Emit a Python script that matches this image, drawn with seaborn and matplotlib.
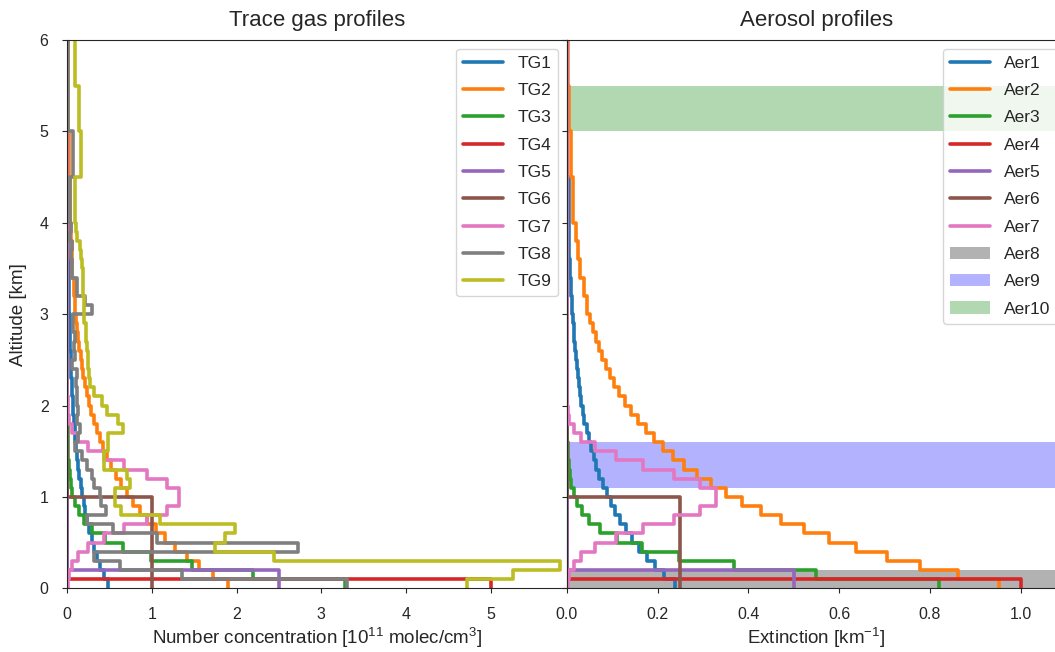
import numpy as np
import pandas as pd
import matplotlib
matplotlib.use('Agg')
import matplotlib.pyplot as plt
import seaborn as sns

# =====================
# DATA (layer edges in km, layer values)
# =====================
alt_edges = [0.0, 0.1, 0.2, 0.3, 0.4, 0.5, 0.6, 0.7, 0.8, 0.9,
             1.0, 1.1, 1.2, 1.3, 1.4, 1.5, 1.6, 1.7, 1.8, 1.9,
             2.0, 2.1, 2.2, 2.3, 2.4, 2.5, 2.6, 2.7, 2.8, 2.9,
             3.0, 3.1, 3.2, 3.3, 3.4, 3.5, 3.6, 3.7, 3.8, 3.9,
             4.0, 4.5, 5.0, 5.5, 6.0]

# trace gases [1e11 molec/cm3]
tg1 = [0.476, 0.430, 0.389, 0.352, 0.319, 0.288, 0.261, 0.236, 0.214, 0.193,
       0.175, 0.158, 0.143, 0.130, 0.117, 0.106, 0.096, 0.087, 0.079, 0.071,
       0.064, 0.058, 0.053, 0.048, 0.043, 0.039, 0.035, 0.032, 0.029, 0.026,
       0.022, 0.022, 0.018, 0.018, 0.015, 0.015, 0.012, 0.012, 0.010, 0.010,
       0.007, 0.004, 0.003, 0.002]
tg2 = [1.902, 1.721, 1.558, 1.410, 1.275, 1.154, 1.044, 0.945, 0.855, 0.774,
       0.700, 0.634, 0.573, 0.519, 0.470, 0.425, 0.385, 0.348, 0.315, 0.285,
       0.258, 0.233, 0.211, 0.191, 0.173, 0.156, 0.141, 0.128, 0.116, 0.105,
       0.090, 0.090, 0.074, 0.074, 0.060, 0.060, 0.050, 0.050, 0.040, 0.040,
       0.028, 0.017, 0.010, 0.006]
tg3 = [3.276, 2.197, 1.472, 0.987, 0.661, 0.443, 0.297, 0.199, 0.134, 0.090,
       0.060, 0.040, 0.027, 0.018, 0.012, 0.008, 0.005, 0.004, 0.002, 0.002,
       0.001, 0.001, 0.0, 0.0, 0.0, 0.0, 0.0, 0.0, 0.0, 0.0,
       0.0, 0.0, 0.0, 0.0, 0.0, 0.0, 0.0, 0.0, 0.0, 0.0,
       0.0, 0.0, 0.0, 0.0]
tg4_edges, tg4 = [0.0, 0.1, 6.0], [5.0, 0.0]
tg5_edges, tg5 = [0.0, 0.2, 6.0], [2.5, 0.0]
tg6_edges, tg6 = [0.0, 1.0, 6.0], [1.0, 0.0]
tg7 = [0.009, 0.024, 0.058, 0.128, 0.249, 0.432, 0.675, 0.942, 1.177, 1.315,
       1.315, 1.177, 0.942, 0.675, 0.432, 0.249, 0.128, 0.058, 0.024, 0.009,
       0.003, 0.0, 0.0, 0.0, 0.0, 0.0, 0.0, 0.0, 0.0, 0.0,
       0.0, 0.0, 0.0, 0.0, 0.0, 0.0, 0.0, 0.0, 0.0, 0.0,
       0.0, 0.0, 0.0, 0.0]
tg8 = [3.30, 1.35, 0.62, 0.31, 2.73, 1.06, 0.54, 0.23, 0.46, 0.40,
       0.39, 0.31, 0.29, 0.23, 0.17, 0.09, 0.13, 0.15, 0.12, 0.13,
       0.11, 0.12, 0.10, 0.11, 0.05, 0.09, 0.08, 0.09, 0.07, 0.07,
       0.29, 0.21, 0.11, 0.11, 0.06, 0.05, 0.04, 0.05, 0.03, 0.04,
       0.03, 0.07, 0.01, 0.01]
tg9 = [4.72, 5.27, 5.82, 2.44, 1.75, 1.86, 1.98, 1.10, 0.64, 0.56,
       0.56, 0.74, 0.70, 0.43, 0.43, 0.48, 0.48, 0.66, 0.60, 0.47,
       0.41, 0.31, 0.27, 0.26, 0.25, 0.25, 0.23, 0.22, 0.22, 0.20,
       0.20, 0.20, 0.19, 0.19, 0.18, 0.17, 0.16, 0.15, 0.12, 0.10,
       0.09, 0.16, 0.14, 0.09]

# aerosols [1/km]
aer1 = [0.238, 0.215, 0.195, 0.176, 0.160, 0.144, 0.131, 0.118, 0.107, 0.097,
        0.088, 0.079, 0.072, 0.065, 0.059, 0.053, 0.048, 0.044, 0.039, 0.036,
        0.032, 0.029, 0.026, 0.024, 0.022, 0.020, 0.018, 0.016, 0.015, 0.013,
        0.011, 0.011, 0.009, 0.009, 0.008, 0.008, 0.006, 0.006, 0.005, 0.005,
        0.004, 0.0, 0.0, 0.0]
aer2 = [0.951, 0.861, 0.779, 0.705, 0.638, 0.577, 0.522, 0.472, 0.427, 0.387,
        0.350, 0.317, 0.287, 0.259, 0.235, 0.212, 0.192, 0.174, 0.157, 0.142,
        0.129, 0.116, 0.105, 0.095, 0.086, 0.078, 0.071, 0.064, 0.058, 0.052,
        0.045, 0.045, 0.037, 0.037, 0.030, 0.030, 0.025, 0.025, 0.020, 0.020,
        0.014, 0.009, 0.005, 0.003]
aer3 = [0.819, 0.549, 0.368, 0.247, 0.165, 0.111, 0.074, 0.050, 0.033, 0.022,
        0.015, 0.010, 0.007, 0.005, 0.003, 0.002, 0.001, 0.001, 0.0, 0.0,
        0.0, 0.0, 0.0, 0.0, 0.0, 0.0, 0.0, 0.0, 0.0, 0.0,
        0.0, 0.0, 0.0, 0.0, 0.0, 0.0, 0.0, 0.0, 0.0, 0.0,
        0.0, 0.0, 0.0, 0.0]
aer4_edges, aer4 = [0.0, 0.1, 6.0], [1.0, 0.0]
aer5_edges, aer5 = [0.0, 0.2, 6.0], [0.5, 0.0]
aer6_edges, aer6 = [0.0, 1.0, 6.0], [0.25, 0.0]
aer7 = [0.002, 0.006, 0.015, 0.032, 0.062, 0.108, 0.169, 0.236, 0.294, 0.329,
        0.329, 0.294, 0.236, 0.169, 0.108, 0.062, 0.032, 0.015, 0.006, 0.002,
        0.001, 0.0, 0.0, 0.0, 0.0, 0.0, 0.0, 0.0, 0.0, 0.0,
        0.0, 0.0, 0.0, 0.0, 0.0, 0.0, 0.0, 0.0, 0.0, 0.0,
        0.0, 0.0, 0.0, 0.0]
# aerosol layers given as altitude bands [km]
aer8_band = (0.0, 0.2)
aer9_band = (1.1, 1.6)
aer10_band = (5.0, 5.5)

tg_names = ['TG1', 'TG2', 'TG3', 'TG4', 'TG5', 'TG6', 'TG7', 'TG8', 'TG9']
aer_names = ['Aer1', 'Aer2', 'Aer3', 'Aer4', 'Aer5', 'Aer6', 'Aer7', 'Aer8', 'Aer9', 'Aer10']


def stairs(edges, values):
    e = np.asarray(edges, dtype=float)
    v = np.asarray(values, dtype=float)
    return pd.DataFrame({'value': np.repeat(v, 2),
                         'altitude': np.column_stack([e[:-1], e[1:]]).ravel()})


tg_profiles = [(alt_edges, tg1), (alt_edges, tg2), (alt_edges, tg3),
               (tg4_edges, tg4), (tg5_edges, tg5), (tg6_edges, tg6),
               (alt_edges, tg7), (alt_edges, tg8), (alt_edges, tg9)]
aer_profiles = [(alt_edges, aer1), (alt_edges, aer2), (alt_edges, aer3),
                (aer4_edges, aer4), (aer5_edges, aer5), (aer6_edges, aer6),
                (alt_edges, aer7)]

# =====================
# STYLE
# =====================
sns.set_style('ticks')
plt.rcParams['font.family'] = ['Liberation Sans', 'DejaVu Sans']
plt.rcParams['mathtext.default'] = 'regular'
palette = sns.color_palette('tab10')
LW = 2.6

fig = plt.figure(figsize=(10.55, 6.52), dpi=100)
ax1 = fig.add_axes([0.0638, 0.0977, 0.4734, 0.8409])
ax2 = fig.add_axes([0.5372, 0.0977, 0.4734, 0.8409], sharey=ax1)

# Trace gases
for i, (edges, vals) in enumerate(tg_profiles):
    sns.lineplot(data=stairs(edges, vals), x='value', y='altitude', ax=ax1,
                 color=palette[i], lw=LW, sort=False, estimator=None,
                 label=tg_names[i])

# Aerosols: profiles, then bands below them
aer_lines = []
for i, (edges, vals) in enumerate(aer_profiles):
    sns.lineplot(data=stairs(edges, vals), x='value', y='altitude', ax=ax2,
                 color=palette[i], lw=LW, sort=False, estimator=None,
                 label=aer_names[i])
    aer_lines.append(ax2.lines[-1])
aer_bands = []
for (lo, hi), c, name in zip([aer8_band, aer9_band, aer10_band], ['k', 'b', 'g'], aer_names[7:]):
    aer_bands.append(ax2.axhspan(lo, hi, color=c, alpha=0.3, lw=0, zorder=1, label=name))

ax1.set_xlim(0, 5.9)
ax2.set_xlim(0, 1.1)
ax1.set_ylim(0, 6)

ax1.set_title('Trace gas profiles', fontsize=16, pad=10)
ax2.set_title('Aerosol profiles', fontsize=16, pad=10)
ax1.set_xlabel('Number concentration [$10^{11}$ molec/cm$^3$]', fontsize=13.5, labelpad=3)
ax2.set_xlabel('Extinction [km$^{-1}$]', fontsize=13.5, labelpad=3)
ax1.set_ylabel('Altitude [km]', fontsize=13.5, labelpad=9)
ax2.set_ylabel('')
ax2.tick_params(labelleft=False)
for ax in (ax1, ax2):
    ax.tick_params(labelsize=11.5, pad=10)

ax1.legend(loc='upper right', fontsize=12.5, handlelength=2.3, labelspacing=0.7)
ax2.legend(handles=aer_lines + aer_bands, labels=aer_names, loc='upper right',
           fontsize=12.5, handlelength=2.3, labelspacing=0.7)

fig.savefig('out.png', dpi=100)
